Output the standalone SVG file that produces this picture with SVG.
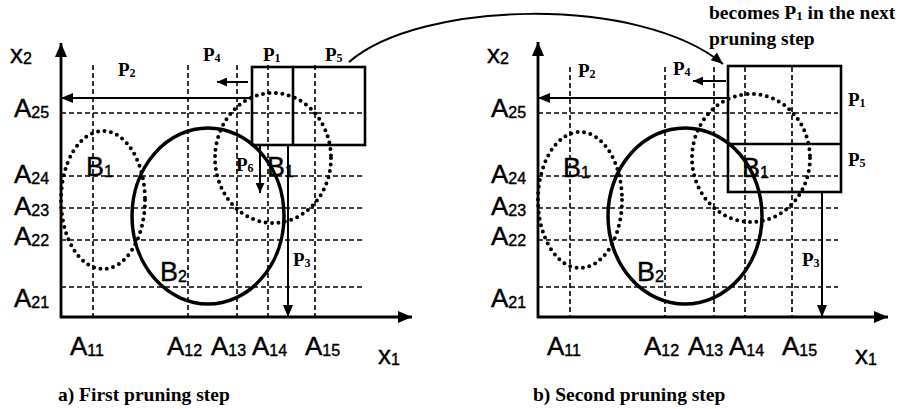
<svg xmlns="http://www.w3.org/2000/svg" width="904" height="409" viewBox="0 0 904 409">
<defs>
<marker id="ah" viewBox="0 0 12 10" refX="12" refY="5" markerWidth="12" markerHeight="10" markerUnits="userSpaceOnUse" orient="auto">
<path d="M0,0 L12,5 L0,10 Z" fill="#000"/>
</marker>
<marker id="ahs" viewBox="0 0 10 9" refX="10" refY="4.5" markerWidth="10" markerHeight="9" markerUnits="userSpaceOnUse" orient="auto">
<path d="M0,0 L10,4.5 L0,9 Z" fill="#000"/>
</marker>
<marker id="ahl" viewBox="0 0 14 12" refX="14" refY="6" markerWidth="14" markerHeight="12" markerUnits="userSpaceOnUse" orient="auto">
<path d="M0,0 L14,6 L0,12 Z" fill="#000"/>
</marker>
</defs>
<style>
.axis{stroke:#000;stroke-width:2.8;fill:none}
.grid{stroke:#000;stroke-width:1.6;stroke-dasharray:5 3;fill:none}
.dot{stroke:#000;stroke-width:4;stroke-dasharray:0 6.5;stroke-linecap:round;fill:none}
.solid{stroke:#000;stroke-width:3.5;fill:none}
.box{stroke:#000;stroke-width:2.6;fill:none}
.arr{stroke:#000;stroke-width:2;fill:none}
.A{font-family:"Liberation Sans",Arial,sans-serif;font-size:26px;fill:#000;stroke:#000;stroke-width:0.4}
.B{font-family:"Liberation Sans",Arial,sans-serif;font-size:27px;fill:#000;stroke:#000;stroke-width:0.4}
.P{font-family:"Liberation Serif","Times New Roman",serif;font-weight:bold;font-size:19px;fill:#000}
.cap{font-family:"Liberation Serif","Times New Roman",serif;font-weight:bold;font-size:19.5px;fill:#000}
</style>

<!-- Panel a -->
<g id="panel-a">
<g id="grid-a">
<line class="grid" x1="93" y1="65" x2="93" y2="317"/>
<line class="grid" x1="188" y1="65" x2="188" y2="317"/>
<line class="grid" x1="237" y1="65" x2="237" y2="317"/>
<line class="grid" x1="268" y1="65" x2="268" y2="317"/>
<line class="grid" x1="315" y1="65" x2="315" y2="317"/>
<line class="grid" x1="61" y1="113" x2="362" y2="113"/>
<line class="grid" x1="61" y1="176" x2="362" y2="176"/>
<line class="grid" x1="61" y1="208" x2="362" y2="208"/>
<line class="grid" x1="61" y1="240" x2="362" y2="240"/>
<line class="grid" x1="61" y1="287" x2="362" y2="287"/>
</g>
<g id="axes-a">
<line class="axis" x1="61" y1="318" x2="61" y2="43" marker-end="url(#ahl)"/>
<line class="axis" x1="60" y1="317" x2="412" y2="317" marker-end="url(#ahl)"/>
</g>
<g id="regions-a">
<ellipse class="dot" cx="103" cy="200" rx="42" ry="69"/>
<ellipse class="solid" cx="208" cy="216" rx="76" ry="88"/>
<ellipse class="dot" cx="273" cy="158" rx="58" ry="65"/>
</g>
<g id="box-a">
<rect class="box" x="252" y="67" width="113" height="78"/>
<line class="box" x1="293" y1="67" x2="293" y2="145"/>
</g>
<g id="arrows-a">
<line class="arr" x1="252" y1="98" x2="61" y2="98" marker-end="url(#ah)"/>
<line class="arr" x1="248" y1="82" x2="217" y2="82" marker-end="url(#ahs)"/>
<line class="arr" x1="260" y1="145" x2="260" y2="193" marker-end="url(#ahs)"/>
<line class="arr" x1="288" y1="145" x2="288" y2="317" marker-end="url(#ah)"/>
</g>
<g id="labels-a">
<text class="A" x="10" y="63">x<tspan font-size="16" dy="1">2</tspan></text>
<text class="A" x="14" y="117">A<tspan font-size="16" dy="1">25</tspan></text>
<text class="A" x="14" y="183">A<tspan font-size="16" dy="1">24</tspan></text>
<text class="A" x="14" y="215">A<tspan font-size="16" dy="1">23</tspan></text>
<text class="A" x="14" y="245">A<tspan font-size="16" dy="1">22</tspan></text>
<text class="A" x="14" y="307">A<tspan font-size="16" dy="1">21</tspan></text>
<text class="A" x="70" y="355">A<tspan font-size="16" dy="1">11</tspan></text>
<text class="A" x="167" y="355">A<tspan font-size="16" dy="1">12</tspan></text>
<text class="A" x="211" y="355">A<tspan font-size="16" dy="1">13</tspan></text>
<text class="A" x="252" y="355">A<tspan font-size="16" dy="1">14</tspan></text>
<text class="A" x="305" y="355">A<tspan font-size="16" dy="1">15</tspan></text>
<text class="A" x="378" y="364">x<tspan font-size="16" dy="1">1</tspan></text>
<text class="B" x="86" y="176">B<tspan font-size="16" dy="1">1</tspan></text>
<text class="B" x="267" y="176">B<tspan font-size="16" dy="1">1</tspan></text>
<text class="B" x="160" y="281">B<tspan font-size="16" dy="1">2</tspan></text>
<text class="P" x="263" y="61">P<tspan font-size="12" dy="1">1</tspan></text>
<text class="P" x="325" y="61">P<tspan font-size="12" dy="1">5</tspan></text>
<text class="P" x="203" y="61">P<tspan font-size="12" dy="1">4</tspan></text>
<text class="P" x="118" y="76">P<tspan font-size="12" dy="1">2</tspan></text>
<text class="P" x="236" y="171">P<tspan font-size="12" dy="1">6</tspan></text>
<text class="P" x="293" y="266">P<tspan font-size="12" dy="1">3</tspan></text>
<text class="cap" x="58" y="401">a)  First pruning step</text>
</g>
</g>

<!-- connector between panels -->
<g id="connectors">
<path class="arr" d="M349,62 C420,0 640,-5 723,64" marker-end="url(#ah)"/>
</g>

<!-- Panel b -->
<g id="panel-b">
<g id="grid-b">
<line class="grid" x1="570" y1="67" x2="570" y2="317"/>
<line class="grid" x1="665" y1="67" x2="665" y2="317"/>
<line class="grid" x1="714" y1="67" x2="714" y2="317"/>
<line class="grid" x1="745" y1="67" x2="745" y2="317"/>
<line class="grid" x1="792" y1="67" x2="792" y2="317"/>
<line class="grid" x1="538" y1="113" x2="838" y2="113"/>
<line class="grid" x1="538" y1="176" x2="838" y2="176"/>
<line class="grid" x1="538" y1="208" x2="838" y2="208"/>
<line class="grid" x1="538" y1="240" x2="838" y2="240"/>
<line class="grid" x1="538" y1="287" x2="838" y2="287"/>
</g>
<g id="axes-b">
<line class="axis" x1="538" y1="318" x2="538" y2="42" marker-end="url(#ahl)"/>
<line class="axis" x1="537" y1="317" x2="888" y2="317" marker-end="url(#ahl)"/>
</g>
<g id="regions-b">
<ellipse class="dot" cx="580" cy="200" rx="42" ry="68"/>
<ellipse class="solid" cx="685" cy="216" rx="77" ry="88"/>
<ellipse class="dot" cx="751" cy="158" rx="59" ry="64"/>
</g>
<g id="box-b">
<rect class="box" x="728" y="66" width="113" height="126"/>
<line class="box" x1="728" y1="144" x2="841" y2="144"/>
</g>
<g id="arrows-b">
<line class="arr" x1="728" y1="98" x2="538" y2="98" marker-end="url(#ah)"/>
<line class="arr" x1="726" y1="81" x2="693" y2="81" marker-end="url(#ahs)"/>
<line class="arr" x1="822" y1="192" x2="822" y2="317" marker-end="url(#ah)"/>
</g>
<g id="labels-b">
<text class="A" x="487" y="63">x<tspan font-size="16" dy="1">2</tspan></text>
<text class="A" x="491" y="117">A<tspan font-size="16" dy="1">25</tspan></text>
<text class="A" x="491" y="183">A<tspan font-size="16" dy="1">24</tspan></text>
<text class="A" x="491" y="215">A<tspan font-size="16" dy="1">23</tspan></text>
<text class="A" x="491" y="245">A<tspan font-size="16" dy="1">22</tspan></text>
<text class="A" x="491" y="307">A<tspan font-size="16" dy="1">21</tspan></text>
<text class="A" x="547" y="355">A<tspan font-size="16" dy="1">11</tspan></text>
<text class="A" x="644" y="355">A<tspan font-size="16" dy="1">12</tspan></text>
<text class="A" x="688" y="355">A<tspan font-size="16" dy="1">13</tspan></text>
<text class="A" x="729" y="355">A<tspan font-size="16" dy="1">14</tspan></text>
<text class="A" x="782" y="355">A<tspan font-size="16" dy="1">15</tspan></text>
<text class="A" x="855" y="364">x<tspan font-size="16" dy="1">1</tspan></text>
<text class="B" x="563" y="177">B<tspan font-size="16" dy="1">1</tspan></text>
<text class="B" x="742" y="177">B<tspan font-size="16" dy="1">1</tspan></text>
<text class="B" x="637" y="281">B<tspan font-size="16" dy="1">2</tspan></text>
<text class="P" x="848" y="106">P<tspan font-size="12" dy="1">1</tspan></text>
<text class="P" x="848" y="166">P<tspan font-size="12" dy="1">5</tspan></text>
<text class="P" x="673" y="75">P<tspan font-size="12" dy="1">4</tspan></text>
<text class="P" x="578" y="77">P<tspan font-size="12" dy="1">2</tspan></text>
<text class="P" x="802" y="266">P<tspan font-size="12" dy="1">3</tspan></text>
<text class="cap" x="709" y="19">becomes P<tspan font-size="13" dy="1">1</tspan><tspan dy="-1"> in the next</tspan></text>
<text class="cap" x="709" y="45">pruning step</text>
<text class="cap" x="533" y="401">b)  Second pruning step</text>
</g>
</g>
</svg>
